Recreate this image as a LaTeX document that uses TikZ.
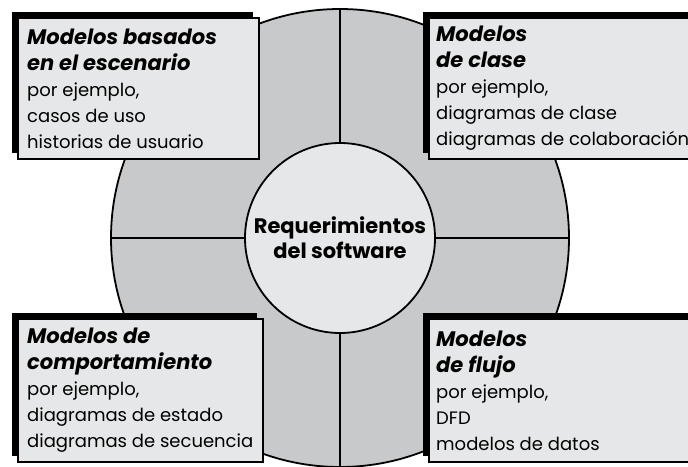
\documentclass[tikz,border=0pt]{standalone}
\usepackage{fontspec}
\setmainfont{Poppins}
\usetikzlibrary{shadows}
\definecolor{grisanillo}{RGB}{200,201,203}
\definecolor{grisclaro}{RGB}{230,231,232}
\newcommand\modtitulo[1]{{\fontsize{21pt}{26pt}\selectfont\bfseries\itshape #1}}
\tikzset{
	caja/.style={draw, line width=1.8pt, fill=grisclaro, anchor=north west, inner sep=0pt,
		drop shadow={shadow xshift=-6pt, shadow yshift=6pt, fill=black, opacity=1}},
	texto/.style={anchor=west, inner sep=0pt, align=left,
		font=\fontsize{18pt}{26pt}\selectfont}
}
\begin{document}
\begin{tikzpicture}[x=1pt, y=-1pt]
	\useasboundingbox (0,0) rectangle (688,466);
	% anillo exterior
	\node[circle, draw, line width=1.8pt, fill=grisanillo, minimum size=458pt, inner sep=0pt, outer sep=0pt] (anillo) at (340,238) {};
	\draw[line width=1.8pt] (anillo.north) -- (anillo.south);
	\draw[line width=1.8pt] (anillo.west) -- (anillo.east);
	% centro
	\node[circle, draw, line width=1.8pt, fill=grisclaro, minimum size=190pt, inner sep=0pt, align=center,
		font=\fontsize{21pt}{25pt}\selectfont\bfseries] (req) at (340,238) {Requerimientos\\del software};
	% los cuatro modelos
	\node[caja, minimum width=241pt, minimum height=141pt] (escenario) at (17,17) {};
	\node[texto] (escenario-t) at ([xshift=10pt]escenario.west)
		{\modtitulo{Modelos basados}\\\modtitulo{en el escenario}\\por ejemplo,\\casos de uso\\historias de usuario};
	\node[caja, minimum width=280pt, minimum height=141pt] (clase) at (428,17) {};
	\node[texto] (clase-t) at ([xshift=8pt]clase.west)
		{\modtitulo{Modelos}\\\modtitulo{de clase}\\por ejemplo,\\diagramas de clase\\diagramas de colaboración};
	\node[caja, minimum width=245pt, minimum height=143pt] (comportamiento) at (17,318) {};
	\node[texto] (comportamiento-t) at ([xshift=10pt]comportamiento.west)
		{\modtitulo{Modelos de}\\\modtitulo{comportamiento}\\por ejemplo,\\diagramas de estado\\diagramas de secuencia};
	\node[caja, minimum width=280pt, minimum height=143pt] (flujo) at (428,318) {};
	\node[texto] (flujo-t) at ([xshift=8pt]flujo.west)
		{\modtitulo{Modelos}\\\modtitulo{de flujo}\\por ejemplo,\\DFD\\modelos de datos};
\end{tikzpicture}
\end{document}
